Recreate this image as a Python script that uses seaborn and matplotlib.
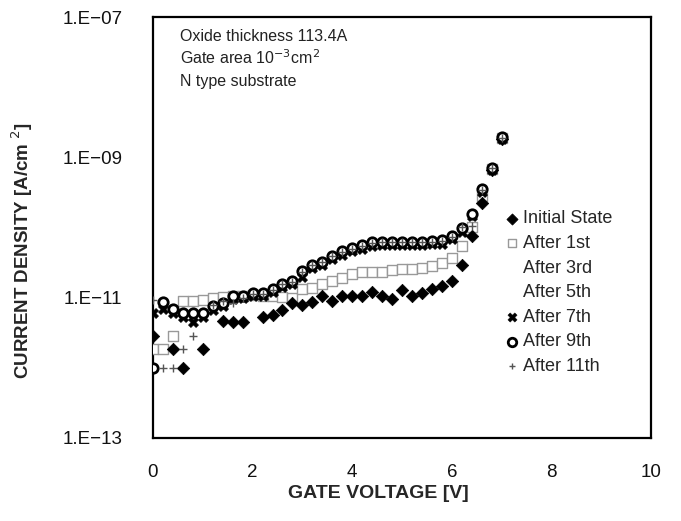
import numpy as np
import pandas as pd
import matplotlib
matplotlib.use("Agg")
import matplotlib.pyplot as plt
import seaborn as sns

# ---- data (gate voltage in V, current density in A/cm^2) ----
voltage = [0.0, 0.2, 0.4, 0.6, 0.8, 1.0, 1.2, 1.4, 1.6, 1.8, 2.0, 2.2, 2.4, 2.6, 2.8,
           3.0, 3.2, 3.4, 3.6, 3.8, 4.0, 4.2, 4.4, 4.6, 4.8, 5.0, 5.2, 5.4, 5.6, 5.8,
           6.0, 6.2, 6.4, 6.6, 6.8, 7.0]
nan = float("nan")

initial_state = [2.88e-12, nan, 1.86e-12, 9.8e-13, nan, 1.86e-12, nan, 4.68e-12, 4.47e-12, 4.57e-12,
                 nan, 5.37e-12, 5.62e-12, 6.61e-12, 8.51e-12, 7.94e-12, 8.71e-12, 1.07e-11, 8.91e-12, 1.07e-11,
                 1.07e-11, 1.07e-11, 1.20e-11, 1.07e-11, 9.55e-12, 1.29e-11, 1.07e-11, 1.17e-11, 1.35e-11, 1.45e-11,
                 1.70e-11, 2.95e-11, 7.59e-11, 2.24e-10, 6.6e-10, 1.82e-9]

after_1st = [1.86e-12, 1.86e-12, 2.88e-12, 8.9e-12, 8.9e-12, 9.3e-12, 1.00e-11, 1.02e-11, 1.05e-11, 1.07e-11,
             1.10e-11, 1.07e-11, 1.05e-11, 1.02e-11, 1.00e-11, 1.35e-11, 1.38e-11, 1.58e-11, 1.70e-11, 1.91e-11,
             2.14e-11, 2.29e-11, 2.29e-11, 2.29e-11, 2.51e-11, 2.57e-11, 2.57e-11, 2.69e-11, 2.82e-11, 3.09e-11,
             3.72e-11, 5.50e-11, 1.02e-10, 2.8e-10, 6.8e-10, 1.86e-9]

after_3rd = [6.0e-12, 8.5e-12, 7.0e-12, 6.0e-12, 6.0e-12, 6.0e-12, 7.5e-12, 8.3e-12, 1.07e-11, 1.07e-11,
             1.17e-11, 1.15e-11, 1.35e-11, 1.58e-11, 1.70e-11, 2.40e-11, 2.95e-11, 3.24e-11, 3.98e-11, 4.57e-11,
             5.1e-11, 5.6e-11, 6.2e-11, 6.3e-11, 6.3e-11, 6.3e-11, 6.3e-11, 6.3e-11, 6.5e-11, 6.6e-11,
             7.6e-11, 9.8e-11, 1.58e-10, 3.5e-10, 7.0e-10, 1.9e-9]

after_5th = [6.0e-12, 8.0e-12, 7.0e-12, 6.0e-12, 6.0e-12, 6.0e-12, 7.5e-12, 8.3e-12, 1.05e-11, 1.05e-11,
             1.15e-11, 1.15e-11, 1.33e-11, 1.55e-11, 1.70e-11, 2.35e-11, 2.90e-11, 3.20e-11, 3.90e-11, 4.50e-11,
             5.0e-11, 5.5e-11, 6.1e-11, 6.2e-11, 6.2e-11, 6.2e-11, 6.2e-11, 6.2e-11, 6.4e-11, 6.5e-11,
             7.5e-11, 9.6e-11, 1.55e-10, 3.4e-10, 7.0e-10, 1.88e-9]

after_7th = [6.03e-12, 6.92e-12, 6.03e-12, 5.37e-12, 4.57e-12, 5.25e-12, 6.61e-12, 7.59e-12, 9.55e-12, 9.77e-12,
             1.05e-11, 1.05e-11, 1.20e-11, 1.41e-11, 1.58e-11, 2.00e-11, 2.63e-11, 2.88e-11, 3.55e-11, 4.07e-11,
             4.57e-11, 5.01e-11, 5.50e-11, 5.62e-11, 5.62e-11, 5.62e-11, 5.62e-11, 5.62e-11, 5.75e-11, 5.89e-11,
             6.76e-11, 8.71e-11, 1.45e-10, 3.16e-10, 6.6e-10, 1.82e-9]

after_9th = [9.8e-13, 8.71e-12, 6.92e-12, 6.03e-12, 6.03e-12, 6.03e-12, 7.59e-12, 8.32e-12, 1.07e-11, 1.07e-11,
             1.17e-11, 1.15e-11, 1.35e-11, 1.58e-11, 1.70e-11, 2.40e-11, 2.95e-11, 3.24e-11, 3.98e-11, 4.57e-11,
             5.13e-11, 5.62e-11, 6.17e-11, 6.31e-11, 6.31e-11, 6.31e-11, 6.31e-11, 6.31e-11, 6.46e-11, 6.61e-11,
             7.59e-11, 9.77e-11, 1.58e-10, 3.55e-10, 7.08e-10, 1.95e-9]

after_11th = [9.3e-12, 9.8e-13, 9.8e-13, 1.86e-12, 2.82e-12, nan, 7.9e-12, 8.9e-12, 8.3e-12, 1.0e-11,
              1.12e-11, 1.12e-11, 1.3e-11, 1.55e-11, 1.66e-11, 2.3e-11, 2.9e-11, 3.2e-11, 3.9e-11, 4.5e-11,
              5.0e-11, 5.5e-11, 6.0e-11, 6.2e-11, 6.2e-11, 6.2e-11, 6.2e-11, 6.2e-11, 6.3e-11, 6.5e-11,
              7.4e-11, 1.0e-10, 1.05e-10, 3.4e-10, 7.0e-10, 1.9e-9]

series_labels = ["Initial State", "After 1st", "After 3rd", "After 5th",
                 "After 7th", "After 9th", "After 11th"]

y_ticks = [1e-13, 1e-11, 1e-9, 1e-7]
y_tick_labels = ["1.E\u221213", "1.E\u221211", "1.E\u221209", "1.E\u221207"]
x_ticks = [0, 2, 4, 6, 8, 10]
x_tick_labels = ["0", "2", "4", "6", "8", "10"]

# ---- figure ----
sns.set_style("white")
plt.rcParams["font.family"] = ["Liberation Sans", "DejaVu Sans"]

fig = plt.figure(figsize=(6.81, 5.21), dpi=100)
ax = fig.add_axes([153 / 681, 83 / 521, 498 / 681, 421 / 521])

all_series = [initial_state, after_1st, after_3rd, after_5th, after_7th, after_9th, after_11th]
styles = [
    dict(marker="D", s=40, color="black", edgecolor="black", linewidth=0.5, zorder=6),
    dict(marker="s", s=42, color="white", edgecolor="#999999", linewidth=1.0, zorder=4),
    dict(marker="o", s=30, color="white", edgecolor="white", linewidth=0.0, zorder=1),
    dict(marker="o", s=30, color="white", edgecolor="white", linewidth=0.0, zorder=1),
    dict(marker="X", s=55, color="black", edgecolor="black", linewidth=0.3, zorder=5),
    dict(marker="o", s=46, color="white", edgecolor="black", linewidth=2.0, zorder=7),
    dict(marker="+", s=30, color="#555555", linewidth=1.0, zorder=8),
]

for label, vals, st in zip(series_labels, all_series, styles):
    df = pd.DataFrame({"V": voltage, "J": vals}).dropna()
    sns.scatterplot(data=df, x="V", y="J", ax=ax, label=label, **st)

ax.set_yscale("log")
ax.set_xlim(0, 10)
ax.set_ylim(1e-13, 1e-7)
ax.set_yticks(y_ticks)
ax.set_yticklabels(y_tick_labels)
ax.yaxis.set_minor_locator(matplotlib.ticker.NullLocator())
ax.set_xticks(x_ticks)
ax.set_xticklabels(x_tick_labels)
ax.tick_params(axis="both", length=0, labelsize=13.5, colors="#111111")
ax.tick_params(axis="y", pad=22)
ax.tick_params(axis="x", pad=19)
ax.set_xlabel("")
ax.set_ylabel("")
for sp in ax.spines.values():
    sp.set_visible(True)
    sp.set_color("black")
    sp.set_linewidth(1.6)

label_font = ["Liberation Sans Narrow", "Liberation Sans", "DejaVu Sans"]
fig.text(378 / 681, 1 - 494 / 521, "GATE VOLTAGE [V]", ha="center", va="center",
         fontsize=14, fontweight="bold", family=label_font)
fig.text(22 / 681, 1 - 251 / 521, "CURRENT DENSITY [A/cm $^{2}$]", ha="center", va="center",
         rotation=90, fontsize=13.5, fontweight="bold", family=label_font)

ax.text(0.054, 0.943, "Oxide thickness 113.4A", transform=ax.transAxes, fontsize=11.5, color="#222222")
ax.text(0.054, 0.888, "Gate area 10$^{-3}$cm$^{2}$", transform=ax.transAxes, fontsize=11.5, color="#222222")
ax.text(0.054, 0.835, "N type substrate", transform=ax.transAxes, fontsize=11.5, color="#222222")

leg = ax.legend(loc="upper left", bbox_to_anchor=(0.685, 0.562), frameon=False,
                fontsize=13, handletextpad=0.1, labelspacing=0.42, borderpad=0,
                handlelength=1.0, markerscale=0.9)

fig.savefig("out.png", dpi=100)
